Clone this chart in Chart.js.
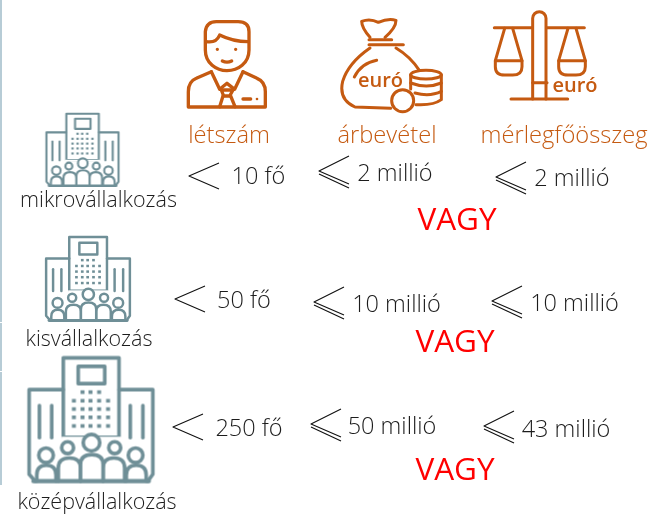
<!DOCTYPE html>
<html><head><meta charset="utf-8">
<script src="https://cdn.jsdelivr.net/npm/chart.js@4"></script>
<style>html,body{margin:0;padding:0;background:#fff}canvas{display:block}</style>
</head><body><canvas id="c" width="649" height="514"></canvas>
<script>
// ---- data ----
const companySizes = ['mikrovállalkozás', 'kisvállalkozás', 'középvállalkozás'];
const metrics = ['létszám', 'árbevétel', 'mérlegfőösszeg'];
const headcountLimits = [10, 50, 250];
const revenueLimits = [2, 10, 50];
const balanceLimits = [2, 10, 43];
const currencyWord = 'euró';
const orWord = 'VAGY';

// ---- layout (reference frame anchors, read through the chart scales) ----
const W = 649, H = 514;
const headerAnchors = [[229, 136], [387, 136], [564, 136]];
const sizeLabelAnchors = [[98.5, 201], [89, 340], [97, 503]];
const buildingAnchors = [[82.5, 150, 74], [88, 279, 86], [91, 420, 127]];
const iconAnchors = [[227, 64], [392, 65], [540, 57]];
const euroAnchors = [[380.5, 81], [575, 86]];
const orAnchors = [[457, 221], [455, 343], [455, 471]];
const headTextAnchors = [[258.5, 177], [244, 301], [249, 429]];
const revTextAnchors = [[395, 174], [396.5, 305], [392, 427]];
const balTextAnchors = [[572, 179], [574.5, 304], [566, 430]];
const ltAnchors = [[204, 176], [190, 299], [188, 427]];
const leAnchors = [[334, 172], [329, 303], [326, 425]];
const leAnchors2 = [[511, 178], [507, 302], [499, 427]];
const edgeSegments = [[0, 322], [323, 371], [372, 485]];

const ORANGE = '#c55a11', TEAL = '#6f8f97', INK = '#1c1c1c';
const FONT = '"Open Sans"';

function mk(w, h, draw) {
  const c = document.createElement('canvas'); c.width = w; c.height = h;
  const x = c.getContext('2d'); x.lineCap = 'round'; x.lineJoin = 'round'; draw(x); return c;
}
function ln(x, pts) { x.beginPath(); pts.forEach((p, i) => i ? x.lineTo(p[0], p[1]) : x.moveTo(p[0], p[1])); x.stroke(); }

// icons: drawn in 3x crop units
function personIcon() {
  return mk(84, 92, x => {
    x.translate(2, 2); x.scale(1 / 3, 1 / 3); x.translate(-52, -60);
    x.strokeStyle = ORANGE; x.fillStyle = ORANGE; x.lineWidth = 10;
    x.beginPath(); x.moveTo(107, 150); x.lineTo(107, 95); x.quadraticCurveTo(110, 65, 140, 65); x.lineTo(205, 65); x.quadraticCurveTo(238, 65, 238, 95); x.lineTo(238, 150);
    x.bezierCurveTo(238, 190, 205, 212, 172, 212); x.bezierCurveTo(140, 212, 107, 190, 107, 150); x.stroke();
    x.beginPath(); x.moveTo(110, 125); x.quadraticCurveTo(140, 130, 150, 105); x.quadraticCurveTo(190, 125, 235, 125); x.stroke();
    x.beginPath(); x.arc(143, 148, 5, 0, 7); x.arc(198, 148, 5, 0, 7); x.fill();
    x.beginPath(); x.moveTo(158, 183); x.quadraticCurveTo(172, 190, 186, 183); x.stroke();
    x.beginPath(); x.moveTo(125, 215); x.lineTo(80, 235); x.quadraticCurveTo(56, 245, 56, 275); x.lineTo(56, 321); x.lineTo(287, 321); x.lineTo(287, 275); x.quadraticCurveTo(287, 245, 262, 235); x.lineTo(220, 215); x.stroke();
    ln(x, [[125, 215], [150, 268], [172, 250], [195, 268], [220, 215]]);
    ln(x, [[155, 270], [190, 270], [180, 288], [162, 288], [155, 270]]);
    ln(x, [[160, 288], [150, 320]]); ln(x, [[183, 288], [196, 320]]);
    ln(x, [[220, 297], [243, 297]]);
    x.beginPath(); x.arc(262, 297, 4, 0, 7); x.fill();
  });
}
function bagIcon() {
  return mk(108, 98, x => {
    x.translate(2, 2); x.scale(1 / 3, 1 / 3); x.translate(-510, -55);
    x.strokeStyle = ORANGE; x.fillStyle = ORANGE; x.lineWidth = 9;
    x.beginPath(); x.moveTo(600, 113); x.quadraticCurveTo(575, 85, 575, 65); x.quadraticCurveTo(600, 55, 625, 68); x.quadraticCurveTo(655, 55, 678, 62); x.quadraticCurveTo(678, 85, 645, 113); x.stroke();
    ln(x, [[597, 120], [665, 120]]); ln(x, [[597, 135], [700, 135]]);
    x.beginPath(); x.moveTo(600, 145); x.quadraticCurveTo(535, 190, 518, 245); x.quadraticCurveTo(505, 300, 555, 322); x.lineTo(662, 326); x.stroke();
    x.beginPath(); x.moveTo(678, 145); x.quadraticCurveTo(720, 170, 748, 212); x.stroke();
    x.beginPath(); x.moveTo(620, 182); x.quadraticCurveTo(575, 190, 553, 232); x.stroke();
    x.beginPath(); x.ellipse(768, 225, 46, 13, 0, 0, 7); x.stroke();
    x.beginPath(); x.moveTo(722, 225); x.lineTo(722, 268); x.moveTo(814, 225); x.lineTo(814, 300); x.quadraticCurveTo(790, 318, 738, 315); x.stroke();
    x.beginPath(); x.moveTo(722, 250); x.quadraticCurveTo(770, 268, 814, 250); x.moveTo(735, 280); x.quadraticCurveTo(780, 292, 814, 275); x.stroke();
    x.beginPath(); x.arc(698, 303, 33, 0, 7); x.fillStyle = '#fff'; x.fill(); x.stroke();
  });
}
function scaleIcon() {
  return mk(98, 96, x => {
    x.translate(2, 2); x.scale(1 / 3, 1 / 3); x.translate(-968, -33);
    x.strokeStyle = ORANGE; x.lineWidth = 9;
    x.beginPath(); x.moveTo(1087, 297); x.lineTo(1087, 55); x.arc(1107, 55, 20, Math.PI, 0); x.lineTo(1127, 297); x.stroke();
    ln(x, [[972, 83], [1085, 83]]); ln(x, [[1130, 83], [1242, 83]]);
    ln(x, [[1022, 297], [1192, 297]]);
    ln(x, [[1087, 248], [1130, 248]]);
    const pan = (cx) => {
      ln(x, [[cx - 12, 85], [cx - 40, 182], [cx + 40, 182], [cx + 12, 85]]);
      x.beginPath(); x.moveTo(cx - 40, 182); x.lineTo(cx - 40, 200); x.quadraticCurveTo(cx - 40, 225, cx - 12, 225); x.lineTo(cx + 12, 225); x.quadraticCurveTo(cx + 40, 225, cx + 40, 200); x.lineTo(cx + 40, 182); x.stroke();
    };
    pan(1015); pan(1205);
  });
}
function buildingIcon(size) {
  const k = size / 383;
  return mk(size + 4, size + 4, x => {
    x.translate(2, 2); x.scale(k, k); x.translate(-82, -20);
    x.strokeStyle = TEAL; x.fillStyle = TEAL; x.lineWidth = 11;
    x.beginPath(); x.rect(190, 24, 168, 240); x.stroke();
    ln(x, [[190, 120], [87, 120], [87, 375], [105, 396]]); ln(x, [[358, 120], [460, 120], [460, 375], [445, 396]]);
    x.beginPath(); x.rect(235, 50, 80, 52); x.stroke();
    [248, 272, 298].forEach(px => x.fillRect(px - 6, 122, 12, 11));
    [153, 178, 203, 229].forEach(py => [222, 248, 272, 298, 325].forEach(px => x.fillRect(px - 6, py - 5, 12, 11)));
    [118, 155, 392, 430].forEach(a => ln(x, [[a, 168], [a, 265]]));
    x.fillStyle = '#fff';
    x.fillRect(185, 262, 180, 10);
    x.fillStyle = TEAL;
    const body = (a, b, top) => { x.beginPath(); x.moveTo(a, 396); x.lineTo(a, top + 30); x.quadraticCurveTo(a, top, (a + b) / 2, top); x.quadraticCurveTo(b, top, b, top + 30); x.lineTo(b, 396); x.fillStyle = '#fff'; x.fill(); x.stroke(); };
    const head = (cx, cy, r) => { x.beginPath(); x.arc(cx, cy, r, 0, 7); x.fillStyle = '#fff'; x.fill(); x.stroke(); };
    head(275, 280, 25); head(203, 295, 18); head(345, 295, 18); head(138, 318, 22); head(408, 318, 22);
    body(110, 168, 348); body(380, 440, 348); body(175, 242, 326); body(310, 375, 326); body(242, 310, 316);
    x.lineWidth = 13; ln(x, [[100, 396], [448, 396]]);
  });
}
function ltIcon() {
  return mk(34, 30, x => { x.strokeStyle = '#111'; x.lineWidth = 1.1; x.lineCap = 'butt'; ln(x, [[32, 2], [2, 15], [32, 28]]); });
}
function leIcon() {
  return mk(34, 36, x => { x.strokeStyle = '#111'; x.lineWidth = 1.1; x.lineCap = 'butt'; ln(x, [[32, 2], [2, 17], [32, 30]]); ln(x, [[2, 20], [32, 34]]); });
}

// ---- datasets ----
const pts = a => a.map(p => ({ x: p[0], y: p[1] }));
const textSets = [];
function textSet(anchors, labels, font, color) {
  textSets.push({ label: 'text', data: pts(anchors), labels, font, color, pointRadius: 0, showLine: false });
}
textSet(headerAnchors, metrics, `300 23.7px ${FONT}`, '#c55a11');
textSet(sizeLabelAnchors, companySizes, `300 21.5px ${FONT}`, INK);
textSet(headTextAnchors, headcountLimits.map(v => `${v} fő`), `300 23.5px ${FONT}`, INK);
textSet(revTextAnchors, revenueLimits.map(v => `${v} millió`), `300 23.5px ${FONT}`, INK);
textSet(balTextAnchors, balanceLimits.map(v => `${v} millió`), `300 23.5px ${FONT}`, INK);
textSet(orAnchors, [orWord, orWord, orWord], `400 31.5px ${FONT}`, '#ff0000');
textSet(euroAnchors, [currencyWord, currencyWord], `600 20px ${FONT}`, ORANGE);

const iconStyles = [personIcon(), bagIcon(), scaleIcon()];
const buildingStyles = buildingAnchors.map(b => buildingIcon(b[2]));
const lt = ltIcon(), le = leIcon();
const markSets = [
  { label: 'metric icons', data: pts(iconAnchors), pointStyle: iconStyles, pointRadius: 1, showLine: false },
  { label: 'company icons', data: pts(buildingAnchors), pointStyle: buildingStyles, pointRadius: 1, showLine: false },
  { label: 'less', data: pts(ltAnchors), pointStyle: lt, pointRadius: 1, showLine: false },
  { label: 'less or equal', data: pts(leAnchors.concat(leAnchors2)), pointStyle: le, pointRadius: 1, showLine: false }
];
const edgeSets = edgeSegments.map(s => ({ label: 'edge', type: 'line', data: [{ x: 1, y: s[0] }, { x: 1, y: s[1] }], borderColor: '#b7ccd6', borderWidth: 2, pointRadius: 0 }));

const labelPlugin = {
  id: 'labelPlugin',
  afterDatasetsDraw(chart) {
    const g = chart.ctx; g.save(); g.textAlign = 'center'; g.textBaseline = 'middle';
    chart.data.datasets.forEach((ds, i) => {
      if (!ds.labels) return;
      chart.getDatasetMeta(i).data.forEach((el, j) => {
        g.font = ds.font; g.fillStyle = ds.color; g.fillText(ds.labels[j], el.x, el.y);
      });
    });
    g.restore();
  }
};

new Chart(document.getElementById('c'), {
  type: 'scatter',
  data: { datasets: [...edgeSets, ...markSets, ...textSets] },
  options: {
    responsive: false, animation: false, events: [],
    layout: { padding: 0, autoPadding: false },
    plugins: { legend: { display: false }, tooltip: { enabled: false } },
    scales: {
      x: { type: 'linear', min: 0, max: W, display: false },
      y: { type: 'linear', min: 0, max: H, reverse: true, display: false }
    }
  },
  plugins: [labelPlugin]
});
</script></body></html>
